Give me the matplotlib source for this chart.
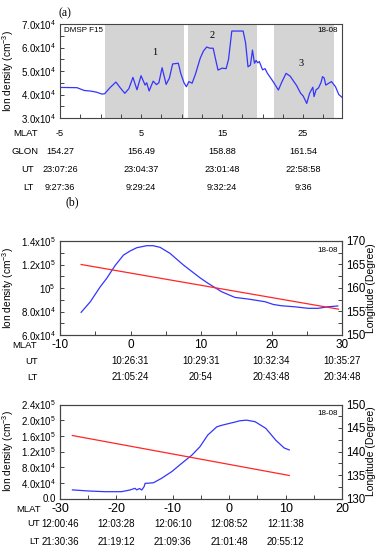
import numpy as np
import matplotlib
matplotlib.use("Agg")
import matplotlib.pyplot as plt
from matplotlib.ticker import MultipleLocator
import matplotlib.transforms as mtransforms

plt.rcParams.update({
    'font.family': ['Liberation Sans', 'DejaVu Sans'],
    'mathtext.default': 'regular',
    'axes.unicode_minus': False,
    'axes.linewidth': 0.8,
    'axes.edgecolor': '#444444',
    'xtick.direction': 'in',
    'ytick.direction': 'in',
    'xtick.color': '#444444',
    'ytick.color': '#444444',
    'xtick.labelcolor': 'black',
    'ytick.labelcolor': 'black',
})

BLUE = '#3434ff'
RED = '#ff2626'
SHADE = '#d4d4d4'
SERIF = ['Liberation Serif', 'DejaVu Serif']

# ---- panel (a): DMSP F15 ion density along the pass ----
mlat_a = [-4.9, -2.9, -2.0, -1.3, -0.5, 0.15, 0.5, 1.2, 1.9, 2.4, 3.0, 3.5, 4.0, 4.5,
          5.0, 5.5, 5.7, 6.0, 6.5, 6.9, 7.2, 7.6, 8.1, 8.5, 8.9, 9.6, 9.9, 10.3, 10.6,
          10.9, 11.3, 11.7, 12.3, 12.7, 13.1, 13.5, 13.9, 14.2, 14.5, 15.0, 15.5, 15.8,
          16.2, 17.6, 17.9, 18.2, 18.5, 18.75, 19.0, 19.2, 19.4, 19.6, 20.0, 20.3, 20.6,
          21.3, 21.95, 22.4, 22.9, 23.4, 24.2, 24.7, 25.0, 25.45, 25.8, 26.2, 26.35,
          26.6, 26.9, 27.2, 27.4, 27.6, 27.8, 28.5, 29.0, 29.4, 29.8]
dens_a = [4.30, 4.29, 4.17, 4.15, 4.10, 4.02, 4.03, 4.30, 4.53, 4.30, 4.05, 4.25, 4.73, 4.20,
          4.80, 4.40, 4.50, 4.15, 4.57, 4.42, 4.50, 5.14, 4.43, 4.70, 5.30, 5.33, 4.90, 4.50,
          4.33, 4.55, 4.48, 4.85, 5.54, 5.85, 6.02, 5.97, 5.97, 5.50, 5.04, 5.12, 5.10, 5.50,
          6.70, 6.70, 6.20, 5.18, 5.25, 5.89, 5.33, 5.45, 5.35, 5.40, 5.05, 5.10, 4.90,
          4.55, 4.19, 4.55, 4.90, 4.78, 4.38, 4.05, 3.94, 3.62, 4.05, 4.31, 3.91,
          4.20, 4.28, 4.50, 4.76, 4.70, 4.40, 4.55, 4.33, 4.00, 3.88]  # x1e4 cm^-3
shade_a = [(0.55, 10.3), (10.8, 19.3), (21.4, 28.8)]
region_labels = ['1', '2', '3']
region_pos = [(6.7, 5.77), (13.8, 6.53), (24.75, 5.3)]
yticks_a = [3e4, 4e4, 5e4, 6e4, 7e4]
yticklabels_a = [r'$3.0x10^{4}$', r'$4.0x10^{4}$', r'$5.0x10^{4}$', r'$6.0x10^{4}$', r'$7.0x10^{4}$']
cols_a = [-5, 5, 15, 25]
table_a = {
    'MLAT': ['-5', '5', '15', '25'],
    'GLON': ['154.27', '156.49', '158.88', '161.54'],
    'UT': ['23:07:26', '23:04:37', '23:01:48', '22:58:58'],
    'LT': ['9:27:36', '9:29:24', '9:32:24', '9:36'],
}

# ---- panel (b) ----
mlat_b = [-7.0, -5.7, -4.3, -3.4, -2.2, -1.0, 0.0, 0.9, 2.3, 3.2, 4.2, 5.6, 7.5, 9.9,
          11.0, 12.9, 14.8, 16.7, 19.1, 20.25, 21.4, 23.3, 25.2, 26.6, 28.0, 29.4]
dens_b = [7.93, 8.83, 10.1, 10.8, 11.9, 12.8, 13.17, 13.43, 13.6, 13.6, 13.46, 12.95, 11.96,
          10.85, 10.4, 9.69, 9.2, 9.06, 8.83, 8.6, 8.49, 8.4, 8.27, 8.27, 8.4, 8.47]  # x1e4
lon_mlat_b = [-7.0, 29.5]
lon_b = [165.0, 155.5]
yticks_b = [6e4, 8e4, 1e5, 1.2e5, 1.4e5]
yticklabels_b = [r'$6.0x10^{4}$', r'$8.0x10^{4}$', r'$10^{5}$', r'$1.2x10^{5}$', r'$1.4x10^{5}$']
ut_cols_b = [0, 10, 20, 30]
ut_b = ['10:26:31', '10:29:31', '10:32:34', '10:35:27']
lt_b = ['21:05:24', '20:54', '20:43:48', '20:34:48']

# ---- panel (c) ----
mlat_c = [-27.8, -25.0, -22.0, -19.1, -17.6, -16.7, -16.4, -15.9, -15.5, -15.1, -14.9,
          -14.3, -13.4, -12.0, -10.2, -8.4, -6.6, -5.2, -3.8, -2.2, -1.3, 0.1, 1.0, 1.9,
          3.1, 4.6, 6.5, 8.25, 9.75, 10.65]
dens_c = [2.2, 1.92, 1.74, 1.74, 2.17, 2.6, 2.2, 2.55, 2.17, 3.0, 3.88,
          3.9, 4.04, 5.15, 6.85, 9.0, 11.1, 13.2, 16.2, 18.3, 18.7, 19.2, 19.5, 19.85,
          20.0, 19.6, 17.9, 14.9, 12.9, 12.4]  # x1e4
lon_mlat_c = [-27.8, 10.65]
lon_c = [143.4, 134.9]
yticks_c = [0, 4e4, 8e4, 1.2e5, 1.6e5, 2.0e5, 2.4e5]
yticklabels_c = ['0.0', r'$4.0x10^{4}$', r'$8.0x10^{4}$', r'$1.2x10^{5}$', r'$1.6x10^{5}$',
                 r'$2.0x10^{5}$', r'$2.4x10^{5}$']
ut_cols_c = [-30, -20, -10, 0, 10]
ut_c = ['12:00:46', '12:03:28', '12:06:10', '12:08:52', '12:11:38']
lt_c = ['21:30:36', '21:19:12', '21:09:36', '21:01:48', '20:55:12']

W, H = 381, 550
fig = plt.figure(figsize=(W / 100, H / 100), dpi=100)


def fx(px):
    return px / W


def fy(py):
    return 1 - py / H


def add_panel(top, bottom):
    return fig.add_axes([fx(60), fy(bottom), fx(342) - fx(60), fy(top) - fy(bottom)])


def row_text(ax, xs, texts, py, size):
    tr = mtransforms.blended_transform_factory(ax.transData, fig.transFigure)
    for x, t in zip(xs, texts):
        ax.text(x, fy(py), t, transform=tr, ha='center', va='center', fontsize=size,
                clip_on=False)


def ylabel_left(ax):
    ax.set_ylabel(r'Ion density (cm$^{-3}$)', fontsize=7.3)
    ax.yaxis.set_label_coords(-0.155, 0.5)


# ===== (a) =====
ax = add_panel(24, 118)
for x0, x1 in shade_a:
    ax.axvspan(x0, x1, color=SHADE, lw=0, zorder=0)
ax.plot(mlat_a, np.array(dens_a) * 1e4, color=BLUE, lw=0.9)
ax.set_xlim(-5, 29.8)
ax.set_ylim(3e4, 7e4)
ax.set_yticks(yticks_a)
ax.set_yticklabels(yticklabels_a)
ax.yaxis.set_minor_locator(MultipleLocator(5e3))
ax.xaxis.set_major_locator(MultipleLocator(2.5))
ax.tick_params(axis='x', labelbottom=False, length=3, width=0.7)
ax.tick_params(axis='y', which='both', length=3, width=0.7, labelsize=7, pad=3)
ylabel_left(ax)
for t, (x, y) in zip(region_labels, region_pos):
    ax.text(x, y * 1e4, t, ha='center', va='center', fontsize=7.5, family=SERIF)
ax.text(0.015, 0.93, 'DMSP F15', transform=ax.transAxes, fontsize=5.8, ha='left', va='center')
ax.text(0.985, 0.93, '18-08', transform=ax.transAxes, fontsize=5.8, ha='right', va='center')
fig.text(fx(65), fy(13), '(a)', fontsize=8.5, family=SERIF, ha='center', va='center')

rows_a = [('MLAT', 38, 134), ('GLON', 38, 152), ('UT', 34, 169), ('LT', 34, 187)]
for name, rx, py in rows_a:
    fig.text(fx(rx), fy(py), name, fontsize=6.8, ha='right', va='center')
    row_text(ax, cols_a, table_a[name], py, 6.6)

fig.text(fx(72), fy(202), '(b)', fontsize=8.5, family=SERIF, ha='center', va='center')


def lower_panel(top, bottom, mlat, dens, lmlat, lon, xlim, ylim, yticks, yticklabels,
                ylim2, ticks2, minor_left, xtsize):
    ax = add_panel(top, bottom)
    ax.plot(mlat, np.array(dens) * 1e4, color=BLUE, lw=0.9, zorder=3)
    ax.set_xlim(*xlim)
    ax.set_ylim(*ylim)
    ax.set_yticks(yticks)
    ax.set_yticklabels(yticklabels)
    if minor_left:
        ax.yaxis.set_minor_locator(MultipleLocator(minor_left))
    ax.xaxis.set_major_locator(MultipleLocator(10))
    ax.xaxis.set_minor_locator(MultipleLocator(5))
    ax.tick_params(axis='x', which='both', length=3, width=0.7, labelsize=xtsize, pad=3)
    ax.tick_params(axis='y', which='both', length=3, width=0.7, labelsize=7, pad=3)
    ylabel_left(ax)
    ax.text(0.985, 0.9, '18-08', transform=ax.transAxes, fontsize=5.8, ha='right', va='center')
    ax2 = ax.twinx()
    ax2.plot(lmlat, lon, color=RED, lw=0.9, zorder=2)
    ax2.set_ylim(*ylim2)
    ax2.yaxis.set_major_locator(MultipleLocator(ticks2))
    ax2.yaxis.set_minor_locator(MultipleLocator(ticks2 / 2))
    ax2.tick_params(axis='y', which='both', length=3, width=0.7, labelsize=8.3, pad=3)
    ax2.set_ylabel('Longitude (Degree)', fontsize=7.5)
    ax2.yaxis.set_label_coords(1.085, 0.5)
    return ax


# ===== (b) =====
axb = lower_panel(241, 335, mlat_b, dens_b, lon_mlat_b, lon_b, (-10, 30), (6e4, 1.4e5),
                  yticks_b, yticklabels_b, (150, 170), 5, 1e4, 8.5)
fig.text(fx(37), fy(346), 'MLAT', fontsize=6.8, ha='right', va='center')
fig.text(fx(38), fy(361), 'UT', fontsize=6.8, ha='right', va='center')
fig.text(fx(38), fy(377), 'LT', fontsize=6.8, ha='right', va='center')
row_text(axb, ut_cols_b, ut_b, 361, 6.9)
row_text(axb, ut_cols_b, lt_b, 377, 6.9)

# ===== (c) =====
axc = lower_panel(404.5, 498.5, mlat_c, dens_c, lon_mlat_c, lon_c, (-30, 20), (0, 2.4e5),
                  yticks_c, yticklabels_c, (130, 150), 5, None, 9)
fig.text(fx(41), fy(509), 'MLAT', fontsize=6.8, ha='right', va='center')
fig.text(fx(40), fy(524), 'UT', fontsize=6.8, ha='right', va='center')
fig.text(fx(40), fy(542), 'LT', fontsize=6.8, ha='right', va='center')
row_text(axc, ut_cols_c, ut_c, 524, 7)
row_text(axc, ut_cols_c, lt_c, 542, 7)

fig.savefig('out.png', dpi=100)
